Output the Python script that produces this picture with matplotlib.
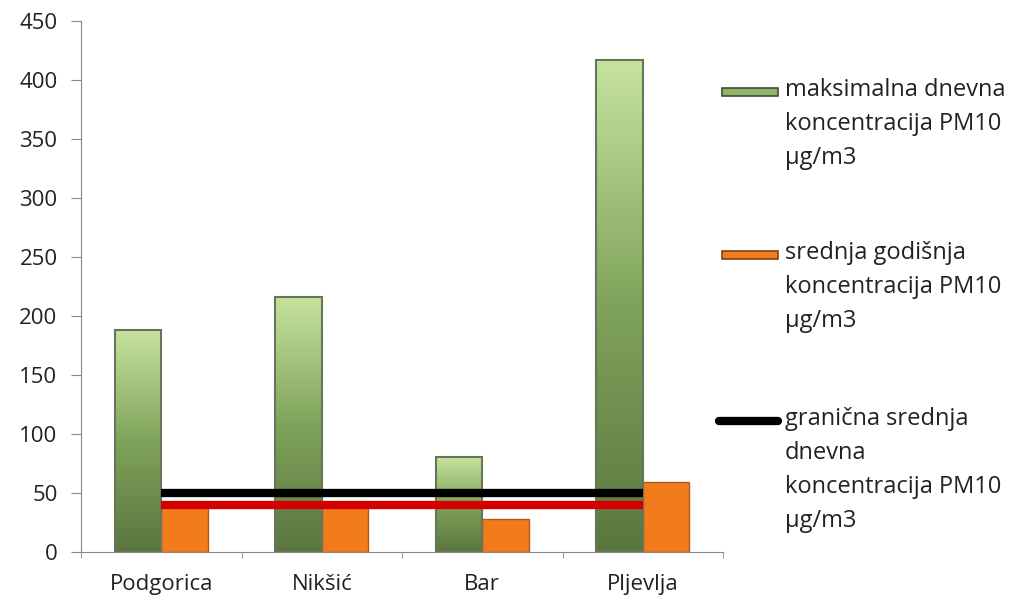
import numpy as np
import matplotlib.pyplot as plt
from matplotlib.patches import Rectangle
from matplotlib.lines import Line2D
from matplotlib.colors import LinearSegmentedColormap

plt.rcParams['font.family'] = ['Open Sans', 'DejaVu Sans']

cities = ['Podgorica', 'Nikšić', 'Bar', 'Pljevlja']
max_daily = [188, 216, 80, 417]
annual_mean = [40, 40, 28, 59]
daily_limit = [50, 50, 50, 50]
annual_limit = [40, 40, 40, 40]

lbl_max = 'maksimalna dnevna\nkoncentracija PM10\nµg/m3'
lbl_mean = 'srednja godišnja\nkoncentracija PM10\nµg/m3'
lbl_limit = 'granična srednja\ndnevna\nkoncentracija PM10\nµg/m3'

fig = plt.figure(figsize=(10.27, 6.03), dpi=100)
ax = fig.add_axes([0.079, 0.085, 0.625, 0.88])

x = np.arange(len(cities))
w = 0.29
green_bars = ax.bar(x - w / 2, max_daily, w, color='#8fb46a', edgecolor='#6a7a5c', linewidth=1.2, zorder=2)
orange_bars = ax.bar(x + w / 2, annual_mean, w, color='#f27b1c', edgecolor='#b8581a', linewidth=1.0, zorder=2)

# vertical gradient inside the green bars
green_cmap = LinearSegmentedColormap.from_list('g', ['#5a7640', '#7fa35a', '#c6e39e'])
grad = np.linspace(0, 1, 256).reshape(-1, 1)
for b in green_bars:
    x0, y0 = b.get_x(), b.get_y()
    im = ax.imshow(grad, cmap=green_cmap, origin='lower', aspect='auto',
                   extent=[x0, x0 + b.get_width(), y0, y0 + b.get_height()], zorder=2.1)
    im.set_clip_path(b)
    ax.bar(x0 + b.get_width() / 2, b.get_height(), b.get_width(), fill=False,
           edgecolor='#66765a', linewidth=1.5, zorder=2.2)

ax.plot(x, annual_limit, color='#d40000', linewidth=6, solid_capstyle='butt', zorder=3)
ax.plot(x, daily_limit, color='black', linewidth=6, solid_capstyle='butt', zorder=3)

ax.set_xlim(-0.5, 3.5)
ax.set_ylim(0, 450)
ax.set_yticks(range(0, 451, 50))
ax.set_xticks(x)
ax.set_xticklabels(cities)
ax.set_xticks(np.arange(-0.5, 3.6, 1), minor=True)
ax.tick_params(axis='x', which='major', length=0, labelsize=16, colors='#222222', pad=16)
ax.tick_params(axis='x', which='minor', length=4, color='#888888')
ax.tick_params(axis='y', length=7, color='#888888', labelsize=16, labelcolor='#222222', pad=10)
for s in ['top', 'right']:
    ax.spines[s].set_visible(False)
ax.spines['left'].set_color('#888888')
ax.spines['bottom'].set_color('#888888')

# legend drawn by hand: key beside the first line of each label
hx0, hx1, tx = 0.703, 0.758, 0.764
rows = [0.847, 0.577, 0.302]
fig.add_artist(Rectangle((hx0, rows[0] - 0.007), hx1 - hx0, 0.014, transform=fig.transFigure,
                         facecolor='#8fb46a', edgecolor='#3f4d33', linewidth=1.2))
fig.add_artist(Rectangle((hx0, rows[1] - 0.007), hx1 - hx0, 0.014, transform=fig.transFigure,
                         facecolor='#f27b1c', edgecolor='#7a4418', linewidth=1.2))
fig.add_artist(Line2D([hx0 - 0.003, hx1], [rows[2], rows[2]], transform=fig.transFigure,
                      color='black', linewidth=6, solid_capstyle='round'))
for y, lbl in zip(rows, [lbl_max, lbl_mean, lbl_limit]):
    fig.text(tx, y + 0.023, lbl, fontsize=17, color='#222222', va='top', ha='left',
             linespacing=1.55)

fig.savefig('out.png', dpi=100)
